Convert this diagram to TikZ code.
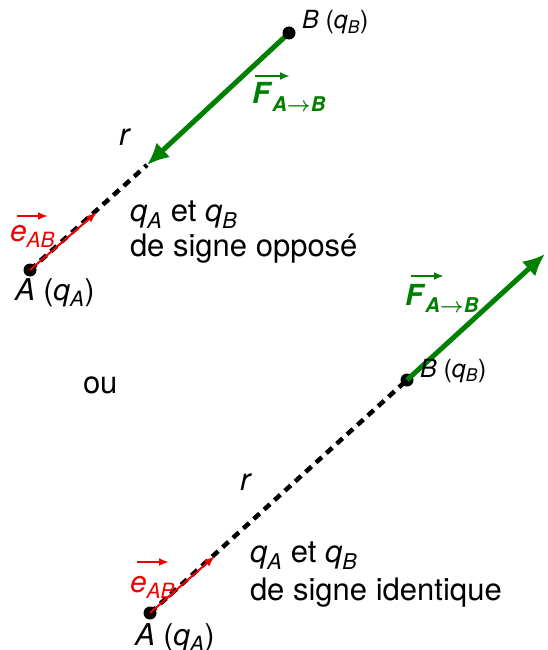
\documentclass[tikz,border=0pt]{standalone}
\usepackage{fontspec}
\setmainfont{TeX Gyre Heros}
\usetikzlibrary{arrows.meta,calc}
\definecolor{fgreen}{RGB}{0,128,0}
\definecolor{ered}{RGB}{240,0,0}
\newcommand{\qsub}[2]{\textit{#1}\textsubscript{\textit{#2}}}
\begin{document}
\begin{tikzpicture}[x=1pt,y=-1pt,
  every node/.style={inner sep=0pt, outer sep=0pt},
  dot/.style={circle,fill=black,minimum size=13pt},
  lbl/.style={anchor=base west, font=\fontsize{31}{36}\selectfont},
  blabel/.style={anchor=base west, font=\fontsize{25}{30}\selectfont},
  alabel/.style={anchor=base west, font=\fontsize{30}{34}\selectfont},
  flabel/.style={anchor=base west, text=fgreen, font=\fontsize{29}{34}\selectfont\bfseries},
  elabel/.style={anchor=base west, text=ered, font=\fontsize{30}{34}\selectfont},
  dashline/.style={line width=4.5pt, dash pattern=on 8pt off 6pt},
  force/.style={line width=5pt, draw=fgreen, -{Latex[length=22pt,width=20pt]}},
  unitvec/.style={line width=2pt, draw=ered, -{Latex[length=11pt,width=8pt]}},
  vecarrow/.style={line width=2pt, -{Latex[length=10pt,width=8pt]}},
]
\useasboundingbox (0,0) rectangle (547,650);

% ---------- top: opposite signs ----------
\coordinate (T1) at (147,165);
\coordinate (E1) at (97,212);
\node[dot] (A1) at (30,270) {};
\draw[dashline] (A1.center) -- (T1);
\draw[unitvec] (A1.center) -- (E1);
\draw[force] (289,33) coordinate (B1c) -- (T1);
\node[dot] (B1) at (B1c) {};

\node[blabel] (lB1) at (302,29) {\textit{B} (\qsub{q}{B})};
\node[alabel] (lA1) at (15,300) {\textit{A} (\qsub{q}{A})};
\node[lbl] (r1) at (119,145) {\textit{r}};
\node[lbl] (t1a) at (130,221) {\qsub{q}{A} et \qsub{q}{B}};
\node[lbl] (t1b) at (130,256) {de signe opposé};
\node[elabel] (e1) at (10,241) {\qsub{e}{AB}};
\draw[vecarrow, ered] ($(e1.base west)+(7,-25)$) -- ($(e1.base west)+(38,-25)$);
\node[flabel] (F1) at (252,104) {\textit{F}\textsubscript{\textit{A}{\boldmath$\rightarrow$}\textit{B}}};
\draw[vecarrow, fgreen] ($(F1.base west)+(3,-28)$) -- ($(F1.base west)+(38,-28)$);

\node[lbl] (ou) at (83,393) {ou};

% ---------- bottom: same signs ----------
\coordinate (E2) at (215,556);
\node[dot] (A2) at (150,613) {};
\node[dot] (B2) at (407,380) {};
\coordinate (T2) at (545,254);
\draw[dashline] (A2.center) -- (B2.center);
\draw[unitvec] (A2.center) -- (E2);
\draw[force] (B2.center) -- (T2);

\node[blabel] (lB2) at (420,377) {\textit{B} (\qsub{q}{B})};
\node[alabel] (lA2) at (135,645) {\textit{A} (\qsub{q}{A})};
\node[lbl] (r2) at (240,490) {\textit{r}};
\node[lbl] (t2a) at (250,562) {\qsub{q}{A} et \qsub{q}{B}};
\node[lbl] (t2b) at (250,600) {de signe identique};
\node[elabel] (e2) at (130,592) {\qsub{e}{AB}};
\draw[vecarrow, ered] ($(e2.base west)+(7,-30)$) -- ($(e2.base west)+(39,-30)$);
\node[flabel] (F2) at (405,305) {\textit{F}\textsubscript{\textit{A}{\boldmath$\rightarrow$}\textit{B}}};
\draw[vecarrow, fgreen] ($(F2.base west)+(6,-29)$) -- ($(F2.base west)+(39,-29)$);
\end{tikzpicture}
\end{document}
